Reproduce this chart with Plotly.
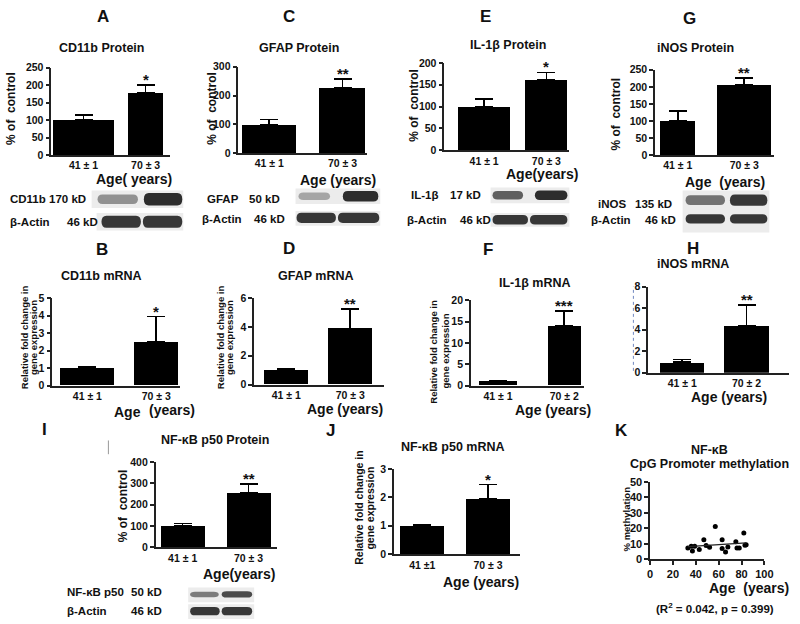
import plotly.graph_objects as go
import numpy as np

W, H = 800, 624
FONT = "Liberation Sans, Arial, sans-serif"

# ---------------- data ----------------
groups_a = ["41 ± 1", "70 ± 3"]
groups_b = ["41 ± 1", "70 ± 2"]
groups_j = ["41 ±1", "70 ± 3"]

cd11b_protein = [100, 177]
cd11b_protein_sem = [15, 23]
gfap_protein = [100, 227]
gfap_protein_sem = [17, 31]
il1b_protein = [100, 161]
il1b_protein_sem = [17, 17]
inos_protein = [100, 207]
inos_protein_sem = [30, 18]
cd11b_mrna = [1.0, 2.5]
cd11b_mrna_sem = [0.1, 1.45]
gfap_mrna = [1.0, 3.9]
gfap_mrna_sem = [0.1, 1.35]
il1b_mrna = [1.0, 14.0]
il1b_mrna_sem = [0.12, 3.5]
inos_mrna = [1.0, 4.4]
inos_mrna_sem = [0.22, 1.9]
nfkb_protein = [100, 257]
nfkb_protein_sem = [12, 41]
nfkb_mrna = [1.0, 1.95]
nfkb_mrna_sem = [0.03, 0.5]

stars = {"A": "*", "C": "**", "E": "*", "G": "**", "B": "*",
         "D": "**", "F": "***", "H": "**", "I": "**", "J": "*"}

ages = [33, 36, 37, 39, 43, 47, 49, 52, 57, 63, 63, 66, 68, 75, 76, 78, 83, 82, 84]
methylation = [7.2, 8.4, 5.2, 8.3, 6.3, 12.5, 8.8, 7.7, 21, 12.6, 6.8, 4.6, 7.8, 11.3, 7.2, 7.2, 8.9, 16.8, 9.3]

# western blot band intensities (lane 1, lane 2)
blot_cd11b = [0.45, 0.95]
blot_gfap = [0.35, 0.95]
blot_il1b = [0.7, 0.95]
blot_inos = [0.6, 0.9]
blot_nfkb = [0.55, 0.8]
blot_actin = [0.9, 0.9]

# ---------------- helpers ----------------
def fx(x):
    return x / W

def fy(y):
    return 1 - y / H

annotations = []
shapes = []

def ann(text, x, y, size, xanchor="center", yanchor="middle", angle=0, color="#111"):
    annotations.append(dict(
        text=text, x=fx(x), y=fy(y), xref="paper", yref="paper",
        xanchor=xanchor, yanchor=yanchor, textangle=angle, showarrow=False,
        font=dict(family=FONT, size=size, color=color, weight="bold")))

# ---------------- bar panels ----------------
panels = [
    dict(key="A", cats=groups_a, vals=cd11b_protein, errs=cd11b_protein_sem,
         box=(49, 170, 63, 152), ymax=250, dtick=50, xr=(-0.52, 1.40), widths=[0.98, 0.56]),
    dict(key="C", cats=groups_a, vals=gfap_protein, errs=gfap_protein_sem,
         box=(239, 370, 62, 150), ymax=300, dtick=100, xr=(-0.42, 1.34), widths=[0.74, 0.62]),
    dict(key="E", cats=groups_a, vals=il1b_protein, errs=il1b_protein_sem,
         box=(448, 575, 58, 147), ymax=200, dtick=50, xr=(-0.64, 1.37), widths=[0.84, 0.68]),
    dict(key="G", cats=groups_a, vals=inos_protein, errs=inos_protein_sem,
         box=(662, 783, 65, 152), ymax=250, dtick=50, xr=(-0.34, 1.45), widths=[0.53, 0.81]),
    dict(key="B", cats=groups_a, vals=cd11b_mrna, errs=cd11b_mrna_sem,
         box=(50, 180, 298, 387), ymax=5, dtick=1, xr=(-0.51, 1.35), widths=[0.79, 0.64]),
    dict(key="D", cats=groups_a, vals=gfap_mrna, errs=gfap_mrna_sem,
         box=(255, 387, 298, 386), ymax=6, dtick=2, xr=(-0.5, 1.53), widths=[0.69, 0.69]),
    dict(key="F", cats=groups_b, vals=il1b_mrna, errs=il1b_mrna_sem,
         box=(475, 590, 300, 387), ymax=20, dtick=5, xr=(-0.41, 1.3), widths=[0.58, 0.5]),
    dict(key="H", cats=groups_b, vals=inos_mrna, errs=inos_mrna_sem,
         box=(655, 798, 286, 374), ymax=8, dtick=2, xr=(-0.53, 1.66), widths=[0.69, 0.69]),
    dict(key="I", cats=groups_a, vals=nfkb_protein, errs=nfkb_protein_sem,
         box=(155, 278, 465, 552), ymax=400, dtick=100, xr=(-0.41, 1.43), widths=[0.67, 0.67]),
    dict(key="J", cats=groups_j, vals=nfkb_mrna, errs=nfkb_mrna_sem,
         box=(397, 525, 472, 559), ymax=3, dtick=1, xr=(-0.43, 1.49), widths=[0.67, 0.67]),
]

fig = go.Figure()
layout = {}

axis_common = dict(showline=True, linecolor="#222", linewidth=1.5, showgrid=False,
                   zeroline=False, fixedrange=True,
                   tickfont=dict(family=FONT, size=10.5, color="#111", weight="bold"))

for i, p in enumerate(panels, start=1):
    sx = "" if i == 1 else str(i)
    x0, x1, yt, yb = p["box"]
    fig.add_trace(go.Bar(
        x=p["cats"], y=p["vals"], width=p["widths"], xaxis="x" + sx, yaxis="y" + sx,
        marker=dict(color="#000", line=dict(width=0)), showlegend=False,
        error_y=dict(type="data", array=p["errs"], arrayminus=[0, 0], symmetric=False,
                     color="#000", thickness=1.6, width=9)))
    layout["xaxis" + sx] = dict(axis_common, domain=[fx(x0), fx(x1)], anchor="y" + sx,
                                type="category", range=list(p["xr"]), ticks="")
    layout["yaxis" + sx] = dict(axis_common, domain=[fy(yb), fy(yt)], anchor="x" + sx,
                                range=[0, p["ymax"]], dtick=p["dtick"], ticks="outside",
                                ticklen=4, tickwidth=1.5, tickcolor="#222")
    annotations.append(dict(
        text=stars[p["key"]], x=1, y=p["vals"][1] + p["errs"][1], xref="x" + sx, yref="y" + sx,
        xanchor="center", yanchor="bottom", yshift=-5, showarrow=False,
        font=dict(family=FONT, size=15, color="#111", weight="bold")))

# ---------------- scatter panel K ----------------
k = "11"
slope, intercept = np.polyfit(ages, methylation, 1)
fit_x = np.array([min(ages), max(ages)])
fig.add_trace(go.Scatter(x=ages, y=methylation, mode="markers", xaxis="x" + k, yaxis="y" + k,
                         marker=dict(color="#000", size=5), showlegend=False))
fig.add_trace(go.Scatter(x=fit_x, y=slope * fit_x + intercept, mode="lines", xaxis="x" + k,
                         yaxis="y" + k, line=dict(color="#222", width=1.3), showlegend=False))
layout["xaxis" + k] = dict(axis_common, domain=[fx(657), fx(773)], anchor="y" + k,
                           range=[0, 100], dtick=20, ticks="outside", ticklen=4, tickwidth=1.5,
                           tickcolor="#222")
layout["xaxis" + k]["tickfont"] = dict(family=FONT, size=11, color="#111", weight="bold")
layout["yaxis" + k] = dict(axis_common, domain=[fy(564), fy(485)], anchor="x" + k,
                           range=[0, 50], dtick=10, ticks="outside", ticklen=4, tickwidth=1.5,
                           tickcolor="#222")
layout["yaxis" + k]["tickfont"] = dict(family=FONT, size=11, color="#111", weight="bold")

# ---------------- text ----------------
# panel letters
for t, x, y in [("A", 102, 11), ("C", 290, 11), ("E", 490, 11), ("G", 697, 13),
                ("B", 100, 248), ("D", 290, 247), ("F", 492, 248), ("H", 700, 247),
                ("I", 42, 432), ("J", 332, 433), ("K", 628, 433)]:
    ann(t, x, y, 17)

# titles
for t, x, y in [("CD11b Protein", 100, 43), ("GFAP Protein", 300, 43), ("IL-1β Protein", 513, 40),
                ("iNOS Protein", 703, 43), ("CD11b mRNA", 100, 275), ("GFAP mRNA", 317, 275),
                ("IL-1β mRNA", 540, 282), ("iNOS mRNA", 700, 263), ("NF-κB p50 Protein", 215, 443),
                ("NF-κB p50 mRNA", 457, 450), ("NF-κB", 717, 453),
                ("CpG Promoter methylation", 717, 467)]:
    ann(t, x, y, 12.5)

# age labels
for t, x, y in [("Age( years)", 133, 176), ("Age (years)", 340, 177), ("Age(years)", 547, 171),
                ("Age  (years)", 733, 179), ("Age", 126, 414), ("(years)", 172, 412),
                ("Age (years)", 347, 411), ("Age (years)", 558, 412), ("Age (years)", 737, 399),
                ("Age(years)", 240, 579), ("Age (years)", 485, 587), ("Age  (years)", 757, 593)]:
    ann(t, x, y, 14)

# y-axis titles
for x, y in [(8, 104), (212, 104), (417, 101), (622, 110), (122, 510)]:
    ann("% of  control", x, y, 12, angle=-90)
for x1, x2, y, s in [(22, 31, 338, 9.5), (221, 230, 338, 9.5), (437, 449, 352, 9.5),
                     (362, 373, 512, 10.5)]:
    ann("Relative fold change in", x1, y, s, angle=-90)
    ann("gene expression", x2, y, s, angle=-90)
ann("% methylation", 633, 523, 9.5, angle=-90)
ann("(R<sup>2</sup> = 0.042, p = 0.399)", 723, 614, 11.5)

# ---------------- western blots ----------------
def band_color(v):
    g = int(235 - 200 * v)
    return f"rgb({g},{g},{g})"

def band(xa, xb, yc, h, color):
    ya, yb2 = yc - h / 2, yc + h / 2
    r = min(5, (xb - xa) / 4)
    pts = (f"M {fx(xa)},{fy(yc)} Q {fx(xa)},{fy(ya)} {fx(xa + r)},{fy(ya)} "
           f"L {fx(xb - r)},{fy(ya)} Q {fx(xb)},{fy(ya)} {fx(xb)},{fy(yc)} "
           f"Q {fx(xb)},{fy(yb2)} {fx(xb - r)},{fy(yb2)} L {fx(xa + r)},{fy(yb2)} "
           f"Q {fx(xa)},{fy(yb2)} {fx(xa)},{fy(yc)} Z")
    shapes.append(dict(type="path", path=pts, xref="paper", yref="paper",
                       fillcolor=color, line=dict(width=0), layer="above"))

def blot_row(box, lanes, yc, h, intens, bg="#ececec"):
    bx0, bx1, by0, by1 = box
    shapes.append(dict(type="rect", x0=fx(bx0), x1=fx(bx1), y0=fy(by1), y1=fy(by0),
                       xref="paper", yref="paper", fillcolor=bg, line=dict(width=0),
                       layer="above"))
    for (la, lb), v in zip(lanes, intens):
        band(la, lb, yc, h * (0.55 + 0.45 * v), band_color(v))

blots = [
    # (label, kd, label_x, kd_x, label_y, row box, lanes, band centre, band h, intensities)
    ("CD11b", "170 kD", 5, 45, 197, (90, 183, 188, 206), [(96, 137), (143, 182)], 197, 13, blot_cd11b),
    ("β-Actin", "46 kD", 5, 63, 220, (95, 183, 211, 229), [(100, 140), (142, 182)], 220, 13, blot_actin),
    ("GFAP", "50 kD", 205, 248, 197, (297, 383, 186, 202), [(300, 332), (345, 381)], 194, 11, blot_gfap),
    ("β-Actin", "46 kD", 200, 253, 217, (297, 383, 209, 224), [(298, 338), (340, 382)], 216, 11, blot_actin),
    ("IL-1β", "17 kD", 412, 452, 193, (495, 575, 185, 201), [(497, 528), (540, 573)], 193, 10, blot_il1b),
    ("β-Actin", "46 kD", 408, 462, 218, (495, 575, 211, 225), [(497, 533), (535, 573)], 218, 10, blot_actin),
    ("iNOS", "135 kD", 602, 640, 202, (690, 778, 188, 208), [(693, 733), (738, 776)], 198, 12, blot_inos),
    ("β-Actin", "46 kD", 595, 650, 218, (690, 778, 208, 231), [(693, 733), (738, 776)], 217, 10, blot_actin),
    ("NF-κB p50", "50 kD", 63, 128, 597, (188, 255, 593, 608), [(190, 219), (222, 253)], 600, 7, blot_nfkb),
    ("β-Actin", "46 kD", 63, 128, 617, (188, 255, 610, 625), [(190, 220), (222, 253)], 617, 9, blot_actin),
]
for lab, kd, lx, kx, ly, box, lanes, yc, h, intens in blots:
    ann(lab, lx, ly, 11.5, xanchor="left")
    ann(kd, kx, ly, 11.5, xanchor="left")
    blot_row(box, lanes, yc, h, intens)

# small artefacts from the source figure
shapes.append(dict(type="line", x0=fx(640), x1=fx(640), y0=fy(372), y1=fy(286), xref="paper",
                   yref="paper", line=dict(color="#7088c0", width=1, dash="dot")))
shapes.append(dict(type="line", x0=fx(107), x1=fx(107), y0=fy(457), y1=fy(443), xref="paper",
                   yref="paper", line=dict(color="#999", width=1)))

fig.update_layout(**layout)
fig.update_layout(width=W, height=H, margin=dict(l=0, r=0, t=0, b=0),
                  paper_bgcolor="white", plot_bgcolor="white", bargap=0,
                  annotations=annotations, shapes=shapes, showlegend=False,
                  font=dict(family=FONT))
fig.write_html("out.html", config={"displayModeBar": False},
               post_script="document.body.style.margin='0';document.body.style.overflow='hidden';")
